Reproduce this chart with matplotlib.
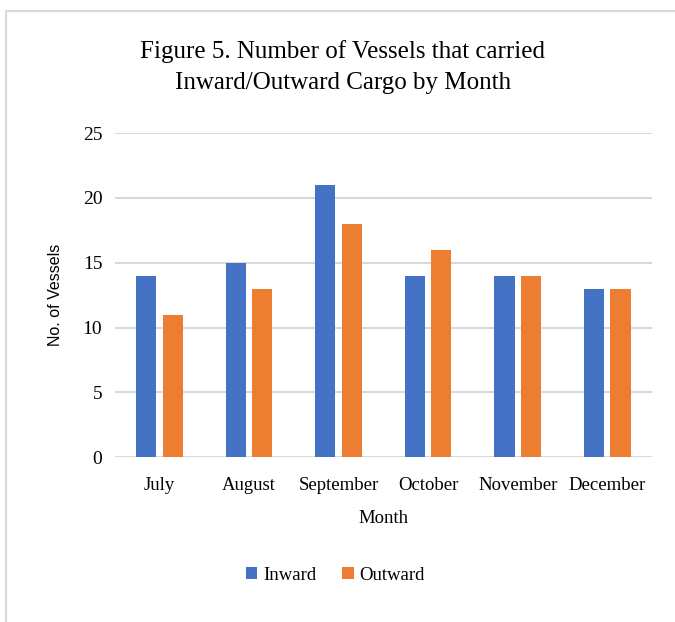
import numpy as np
import matplotlib
matplotlib.use("Agg")
import matplotlib.pyplot as plt
from matplotlib.lines import Line2D

meses = ["July", "August", "September", "October", "November", "December"]
inward = [14, 15, 21, 14, 14, 13]
outward = [11, 13, 18, 16, 14, 13]

serif = "Liberation Serif"
fig = plt.figure(figsize=(6.75, 6.22), dpi=100)
ax = fig.add_axes([0.170, 0.265, 0.796, 0.521])

x = np.arange(len(meses))
w = 0.225
ax.bar(x - 0.035 - w / 2, inward, w, color="#4472C4", label="Inward", zorder=3)
ax.bar(x + 0.035 + w / 2, outward, w, color="#ED7D31", label="Outward", zorder=3)

ax.set_xlim(-0.5, len(meses) - 0.5)
ax.set_ylim(0, 25)
ax.set_yticks(range(0, 26, 5))
ax.set_xticks(x)
ax.set_xticklabels(meses, fontfamily=serif, fontsize=13.5)
for t in ax.get_yticklabels():
    t.set_fontfamily(serif)
    t.set_fontsize(14)
ax.tick_params(axis="x", length=0, pad=14)
ax.tick_params(axis="y", length=0, pad=9)
ax.grid(axis="y", color="#D9D9D9", linewidth=1.5, zorder=0)
for s in ax.spines.values():
    s.set_visible(False)

ax.set_ylabel("No. of Vessels", fontfamily="Liberation Sans", fontsize=11.5, labelpad=14)
ax.set_xlabel("Month", fontfamily=serif, fontsize=13.5, labelpad=12)
fig.text(0.508, 0.892, "Figure 5. Number of Vessels that carried\nInward/Outward Cargo by Month",
         ha="center", va="center", fontfamily=serif, fontsize=18, linespacing=1.55)

fig.legend(loc="center", bbox_to_anchor=(0.497, 0.075), ncol=2, frameon=False,
           prop={"family": serif, "size": 13.5}, handlelength=0.6, handleheight=0.6,
           handletextpad=0.3, columnspacing=1.4)

# marco gris
fig.add_artist(Line2D([6 / 675, 6 / 675], [0, 1 - 11 / 622], color="#D9D9D9", lw=1.5))
fig.add_artist(Line2D([6 / 675, 1], [1 - 11 / 622, 1 - 11 / 622], color="#D9D9D9", lw=1.5))

fig.savefig("out.png", dpi=100)
